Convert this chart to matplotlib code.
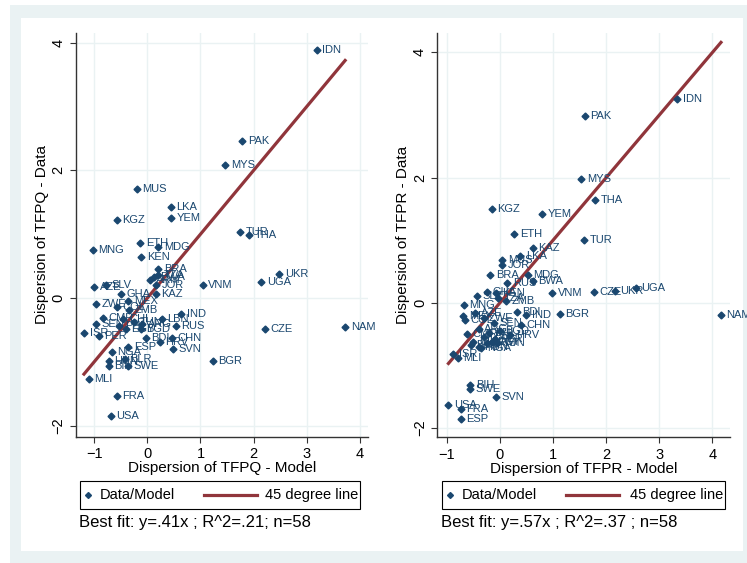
import matplotlib
matplotlib.use("Agg")
import matplotlib.pyplot as plt
from matplotlib.patches import Rectangle
from matplotlib.lines import Line2D

W, H = 747, 563

codes = ["IDN", "PAK", "MYS", "MUS", "LKA", "KGZ", "YEM", "TUR", "THA", "ETH",
         "MDG", "MNG", "KEN", "BRA", "BWA", "TZA", "ARM", "AZE", "SLV", "GHA",
         "KAZ", "JOR", "VNM", "UGA", "UKR", "ZWE", "MEX", "COL", "ZMB", "IND",
         "LBN", "RUS", "CZE", "NAM", "ISR", "SEN", "CMR", "PER", "CHL", "PHL",
         "ARG", "BGD", "BDI", "HRV", "CHN", "SVN", "ESP", "NGA", "HUN", "BLR",
         "BIH", "SWE", "MLI", "BGR", "FRA", "USA", "TUN", "EGY"]

tfpq_model = [3.19, 1.79, 1.47, -0.20, 0.44, -0.57, 0.45, 1.75, 1.91, -0.13,
              0.21, -1.02, -0.11, 0.21, 0.13, 0.21, 0.05, -1.00, -0.78, -0.50,
              0.16, 0.17, 1.04, 2.14, 2.48, -0.97, -0.36, -0.57, -0.34, 0.64,
              0.27, 0.54, 2.21, 3.72, -1.19, -0.97, -0.83, -0.91, -0.45, -0.53,
              -0.10, -0.12, -0.03, 0.23, 0.47, 0.48, -0.36, -0.67, -0.72, -0.42,
              -0.72, -0.36, -1.10, 1.23, -0.57, -0.69, -0.25, -0.40]
tfpq_data = [3.89, 2.46, 2.08, 1.71, 1.43, 1.23, 1.25, 1.04, 0.98, 0.87,
             0.80, 0.76, 0.64, 0.45, 0.33, 0.36, 0.28, 0.18, 0.21, 0.07,
             0.06, 0.21, 0.21, 0.25, 0.37, -0.09, -0.05, -0.14, -0.18, -0.25,
             -0.33, -0.43, -0.49, -0.45, -0.55, -0.40, -0.31, -0.59, -0.33, -0.43,
             -0.40, -0.49, -0.63, -0.68, -0.63, -0.79, -0.77, -0.85, -0.98, -0.96,
             -1.07, -1.06, -1.27, -0.99, -1.54, -1.85, -0.38, -0.48]

tfpr_model = [3.34, 1.60, 1.53, 0.04, 0.38, -0.15, 0.79, 1.58, 1.79, 0.27,
              0.52, -0.68, -0.07, -0.18, 0.62, -0.03, -0.25, -0.47, -0.44, -0.25,
              0.62, 0.04, 0.98, 2.56, 2.16, -0.31, -0.69, -0.66, 0.12, 0.49,
              -0.30, 0.14, 1.77, 4.16, -0.88, -0.12, -0.62, -0.10, -0.50, -0.20,
              -0.40, 0.00, 0.32, 0.19, 0.39, -0.08, -0.74, -0.35, -0.40, -0.55,
              -0.56, -0.56, -0.79, 1.13, -0.74, -0.97, -0.05, -0.15]
tfpr_data = [3.25, 2.99, 1.98, 0.69, 0.74, 1.49, 1.41, 1.00, 1.64, 1.10,
             0.44, -0.04, 0.16, 0.45, 0.35, 0.08, -0.65, -0.16, 0.10, 0.17,
             0.88, 0.61, 0.15, 0.24, 0.19, -0.24, -0.21, -0.27, 0.03, -0.20,
             -0.55, 0.31, 0.17, -0.20, -0.82, -0.32, -0.50, -0.58, -0.62, -0.48,
             -0.42, -0.45, -0.14, -0.52, -0.35, -1.50, -1.85, -0.72, -0.70, -0.68,
             -1.32, -1.38, -0.89, -0.18, -1.69, -1.63, -0.65, -0.62]

xticks = [-1, 0, 1, 2, 3, 4]
yticks = [-2, 0, 2, 4]

NAVY = "#1A476F"
MAROON = "#90353B"
GRID = "#EAF2F3"
FRAME = "#EAF2F3"

font = ["Liberation Sans", "DejaVu Sans"]


def fx(px):
    return px / W


def fy(py):
    return 1 - py / H


fig = plt.figure(figsize=(W / 100, H / 100), dpi=100)
fig.patch.set_facecolor("white")
fig.patches.append(Rectangle((fx(10), 0), 1, fy(5), transform=fig.transFigure,
                             facecolor=FRAME, edgecolor="none", zorder=-10))
fig.patches.append(Rectangle((fx(21), fy(551)), fx(743) - fx(21), fy(18) - fy(551),
                             transform=fig.transFigure, facecolor="white",
                             edgecolor="none", zorder=-9))

panels = [
    dict(x=tfpq_model, y=tfpq_data, rect=(76, 33, 368, 436.7),
         xlim=(-1.34, 4.15), ylim=(-2.17, 4.15),
         xlabel="Dispersion of TFPQ - Model", ylabel="Dispersion of TFPQ - Data",
         box=(80, 360), note="Best fit: y=.41x ; R^2=.21; n=58"),
    dict(x=tfpr_model, y=tfpr_data, rect=(437.3, 33, 730, 437.3),
         xlim=(-1.18, 4.33), ylim=(-2.15, 4.31),
         xlabel="Dispersion of TFPR - Model", ylabel="Dispersion of TFPR - Data",
         box=(442, 725), note="Best fit: y=.57x ; R^2=.37 ; n=58"),
]

for p in panels:
    l, t, r, b = p["rect"]
    ax = fig.add_axes([fx(l), fy(b), fx(r) - fx(l), fy(t) - fy(b)])
    ax.set_xlim(*p["xlim"])
    ax.set_ylim(*p["ylim"])
    ax.set_xticks(xticks)
    ax.set_yticks(yticks)
    ax.grid(True, color=GRID, linewidth=1.0)
    ax.set_axisbelow(True)
    for s in ["top", "right"]:
        ax.spines[s].set_visible(False)
    for s in ["left", "bottom"]:
        ax.spines[s].set_color("#333333")
        ax.spines[s].set_linewidth(1.0)
    ax.tick_params(axis="both", direction="out", length=4, width=0.8,
                   colors="#333333", labelcolor="black", labelsize=10.5)
    ax.tick_params(axis="y", labelrotation=90)
    for lab in ax.get_yticklabels():
        lab.set_va("center")
    for lab in ax.get_xticklabels() + ax.get_yticklabels():
        lab.set_family(font)

    lo, hi = min(p["x"]), max(p["x"])
    ax.plot([lo, hi], [lo, hi], color=MAROON, linewidth=2.3, zorder=2)
    ax.plot(p["x"], p["y"], linestyle="none", marker="D", markersize=3.5,
            color=NAVY, zorder=3)
    for c, xv, yv in zip(codes, p["x"], p["y"]):
        ax.annotate(c, (xv, yv), xytext=(4, 0), textcoords="offset points",
                    va="center", ha="left", fontsize=8, color=NAVY,
                    family=font, zorder=3)

    ax.set_xlabel(p["xlabel"], fontsize=11, family=font, labelpad=0)
    ax.set_ylabel(p["ylabel"], fontsize=11, family=font, labelpad=2)

    bl, br = p["box"]
    fig.patches.append(Rectangle((fx(bl), fy(509)), fx(br) - fx(bl), fy(481) - fy(509),
                                 transform=fig.transFigure, facecolor="white",
                                 edgecolor="black", linewidth=0.8))
    fig.lines.append(Line2D([fx(bl + 8)], [fy(495)], transform=fig.transFigure,
                            marker="D", markersize=3.0, color=NAVY, linestyle="none"))
    fig.text(fx(bl + 20), fy(495), "Data/Model", fontsize=10.5, family=font,
             va="center", ha="left")
    fig.lines.append(Line2D([fx(bl + 124), fx(bl + 177)], [fy(495), fy(495)],
                            transform=fig.transFigure, color=MAROON, linewidth=2.3))
    fig.text(fx(br - 2), fy(495), "45 degree line", fontsize=10.5, family=font,
             va="center", ha="right")
    fig.text(fx(bl - 1), fy(523), p["note"], fontsize=12, family=font,
             va="center", ha="left")

fig.savefig("out.png", dpi=100, facecolor="white")
